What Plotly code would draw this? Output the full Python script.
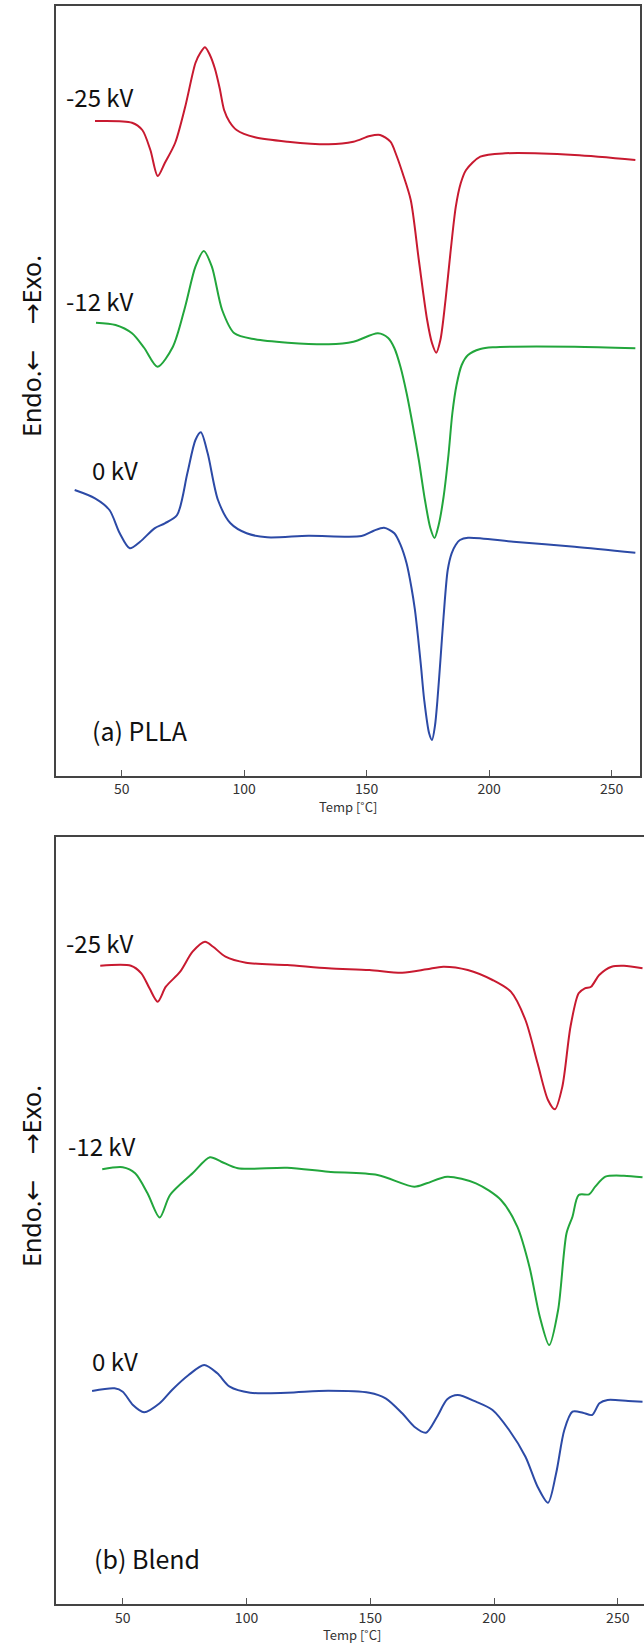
import plotly.graph_objects as go

W, H = 644, 1646

# ---------------- Panel (a) PLLA ----------------
a_red_T = [39.1, 54.2, 58.4, 61.7, 64.7, 67.6, 71.8, 75.9, 80.1, 82.0, 84.0, 86.0, 88.0, 90.0, 91.8, 94.0,
           96.9, 104.4, 117.8, 134.5, 144.6, 151.3, 155.5, 159.7, 162.1, 164.7, 168.0, 171.3, 174.7, 176.7,
           178.4, 180.1, 182.2, 184.2, 186.4, 188.4, 190.6, 196.4, 206.5, 234.9, 259.7]
a_red_v = [654.7, 653.0, 645.7, 625.7, 599.7, 612.7, 632.7, 668.7, 712.7, 722.4, 728.4, 720.7, 707.4,
           687.4, 665.7, 654.0, 645.7, 638.4, 634.0, 631.4, 634.0, 639.7, 640.7, 634.0, 620.7, 602.4,
           575.7, 515.7, 455.7, 432.4, 423.0, 435.7, 475.7, 522.7, 569.0, 592.4, 605.7, 619.0, 622.4,
           620.7, 615.7]

a_green_T = [39.5, 47.5, 54.2, 59.2, 64.6, 70.9, 75.9, 80.1, 83.5, 86.8, 91.0, 96.0, 104.4, 117.8,
             134.5, 144.6, 154.6, 158.8, 161.3, 163.8, 166.3, 168.8, 171.3, 173.8, 176.0, 177.7, 179.4,
             181.4, 183.4, 185.0, 186.7, 188.8, 191.4, 196.4, 201.5, 234.9, 259.7]
a_green_v = [453.0, 450.7, 442.4, 427.7, 409.0, 429.0, 469.0, 509.0, 524.7, 509.0, 465.7, 442.4, 436.4,
             433.0, 431.4, 434.0, 442.4, 437.7, 427.7, 409.0, 382.7, 350.7, 315.7, 275.7, 247.7, 237.7,
             250.7, 278.7, 320.7, 362.7, 390.7, 410.7, 420.7, 426.7, 428.4, 429.0, 427.4]

a_blue_T = [30.8, 39.1, 45.0, 49.2, 53.3, 57.5, 63.4, 67.6, 72.6, 76.8, 80.1, 82.3, 85.1, 89.3, 94.4,
            101.0, 109.4, 126.2, 147.9, 152.9, 157.1, 161.3, 163.8, 166.3, 168.3, 169.7, 171.0, 172.2,
            173.5, 175.5, 176.7, 177.9, 178.9, 180.1, 181.4, 183.1, 184.7, 186.4, 188.1, 191.4, 209.9,
            234.9, 259.7]
a_blue_v = [285.7, 277.4, 265.7, 242.4, 227.4, 234.0, 247.4, 252.4, 260.7, 302.4, 335.7, 343.4, 322.4,
            275.7, 252.4, 242.4, 238.4, 240.0, 239.7, 245.0, 248.0, 242.4, 231.0, 212.4, 188.0, 166.0,
            138.0, 109.0, 75.7, 42.4, 35.7, 50.0, 75.7, 115.0, 159.0, 205.7, 222.4, 231.0, 235.7, 238.0,
            234.0, 229.0, 223.0]

# ---------------- Panel (b) Blend ----------------
b_red_T = [40.9, 53.3, 57.5, 60.8, 64.1, 67.4, 73.2, 78.2, 83.2, 86.5, 91.5, 99.8, 116.4, 133.0, 149.6,
           162.9, 172.8, 179.5, 189.4, 199.4, 206.8, 212.7, 217.6, 221.8, 224.6, 227.6, 230.9, 234.2,
           236.7, 239.2, 242.5, 247.5, 252.5, 260.0]
b_red_v = [638.3, 638.3, 630.7, 615.7, 602.3, 617.3, 632.3, 652.3, 662.3, 657.3, 647.3, 641.3, 639.0,
           635.7, 634.0, 631.3, 634.7, 637.3, 634.0, 624.0, 612.3, 584.0, 540.7, 504.0, 494.7, 517.3,
           577.3, 610.7, 615.7, 617.3, 629.0, 637.3, 638.3, 635.7]

b_green_T = [41.7, 50.0, 55.0, 60.0, 64.9, 69.1, 78.2, 85.2, 89.8, 96.5, 116.4, 133.0, 152.9, 167.8,
             172.8, 181.1, 192.7, 202.8, 209.4, 214.3, 218.5, 222.3, 225.9, 229.3, 231.7, 234.2, 238.4,
             240.9, 245.0, 252.5, 260.0]
b_green_v = [434.7, 436.7, 430.7, 410.7, 386.5, 409.0, 430.7, 446.7, 442.3, 435.7, 436.3, 432.3, 429.0,
             417.3, 420.7, 427.3, 420.7, 404.0, 377.3, 337.3, 287.3, 259.0, 294.0, 370.7, 387.3, 409.0,
             409.7, 417.3, 427.3, 428.3, 426.7]

b_blue_T = [37.6, 46.7, 50.0, 54.1, 58.6, 64.9, 69.9, 76.6, 82.9, 88.2, 93.2, 101.5, 116.4, 133.0, 149.6,
            156.2, 162.9, 167.8, 172.5, 177.0, 181.1, 185.3, 192.7, 199.4, 206.1, 212.7, 217.6, 221.8,
            225.1, 228.4, 231.7, 235.9, 239.6, 242.6, 245.9, 254.2, 260.0]
b_blue_v = [213.0, 215.7, 212.3, 199.0, 191.7, 200.7, 214.0, 229.0, 239.0, 230.7, 217.3, 211.3, 211.3,
            213.3, 211.3, 205.7, 190.7, 177.3, 171.3, 187.3, 204.7, 209.0, 202.3, 194.0, 174.0, 147.3,
            117.3, 101.3, 130.7, 174.0, 192.3, 191.3, 189.0, 200.7, 204.0, 203.0, 202.3]

tick_vals = [50, 100, 150, 200, 250]
tick_text = ["50", "100", "150", "200", "250"]
series_labels = ["-25 kV", "-12 kV", "0 kV"]
panel_labels = ["(a) PLLA", "(b) Blend"]
x_title = "Temp [˚C]"

RED, GREEN, BLUE = "#c81a30", "#22a63c", "#2c4aa6"
LW = 2.0

fig = go.Figure()
for T, v, c in [(a_red_T, a_red_v, RED), (a_green_T, a_green_v, GREEN), (a_blue_T, a_blue_v, BLUE)]:
    fig.add_trace(go.Scatter(x=T, y=v, mode="lines", line=dict(color=c, width=LW, shape="spline", smoothing=0.8),
                             xaxis="x", yaxis="y", showlegend=False, hoverinfo="skip"))
for T, v, c in [(b_red_T, b_red_v, RED), (b_green_T, b_green_v, GREEN), (b_blue_T, b_blue_v, BLUE)]:
    fig.add_trace(go.Scatter(x=T, y=v, mode="lines", line=dict(color=c, width=LW, shape="spline", smoothing=0.8),
                             xaxis="x2", yaxis="y2", showlegend=False, hoverinfo="skip"))

def px(x):
    return x / W

def py(y):
    return 1 - y / H

tickfont = dict(family="Noto Sans CJK JP, sans-serif", size=14, color="#333333")
axis_common = dict(showline=True, linecolor="#444444", linewidth=1.5, showgrid=False, zeroline=False,
                   ticks="inside", ticklen=6, tickwidth=1, tickcolor="#555555",
                   tickvals=tick_vals, ticktext=tick_text, tickfont=tickfont)

fig.update_layout(
    width=W, height=H, margin=dict(l=0, r=0, t=0, b=0),
    paper_bgcolor="white", plot_bgcolor="white",
    xaxis=dict(domain=[px(55.7), px(640)], range=[23.05, 261.6], anchor="y", mirror=True, **axis_common),
    yaxis=dict(domain=[py(775.7), py(6)], range=[0, 769.7], anchor="x", showline=True, mirror=True,
               linecolor="#444444", linewidth=1.5, showticklabels=False, ticks="", showgrid=False, zeroline=False),
    xaxis2=dict(domain=[px(55.7), 1.0], range=[22.9, 260.6], anchor="y2", mirror=True, **axis_common),
    yaxis2=dict(domain=[py(1604), py(837.3)], range=[0, 766.7], anchor="x2", showline=True, mirror=False,
                linecolor="#444444", linewidth=1.5, showticklabels=False, ticks="", showgrid=False, zeroline=False),
)

lab_font = dict(family="Noto Sans CJK JP, sans-serif", size=24, color="#111111")
ann = []
for (x0, y0), t in zip([(64, 97), (64, 300), (90, 470)], series_labels):
    ann.append(dict(x=px(x0), y=py(y0), xref="paper", yref="paper", text=t, showarrow=False,
                    xanchor="left", yanchor="middle", font=lab_font))
for (x0, y0), t in zip([(64, 942), (66, 1145), (90, 1360)], series_labels):
    ann.append(dict(x=px(x0), y=py(y0), xref="paper", yref="paper", text=t, showarrow=False,
                    xanchor="left", yanchor="middle", font=lab_font))
pl_font = dict(family="Noto Sans CJK JP, sans-serif", size=25, color="#111111")
ann.append(dict(x=px(90), y=py(730), xref="paper", yref="paper", text=panel_labels[0], showarrow=False,
                xanchor="left", yanchor="middle", font=pl_font))
ann.append(dict(x=px(92), y=py(1558), xref="paper", yref="paper", text=panel_labels[1], showarrow=False,
                xanchor="left", yanchor="middle", font=pl_font))
xt_font = dict(family="Noto Sans CJK JP, sans-serif", size=13, color="#333333")
ann.append(dict(x=px(348), y=py(807), xref="paper", yref="paper", text=x_title, showarrow=False,
                xanchor="center", yanchor="middle", font=xt_font))
ann.append(dict(x=px(352), y=py(1634), xref="paper", yref="paper", text=x_title, showarrow=False,
                xanchor="center", yanchor="middle", font=xt_font))
arrow_span = '<span style="font-family:DejaVu Sans">{}</span>'
y_title = "Endo." + arrow_span.format("←") + "\u2002\u2002" + arrow_span.format("→") + "Exo."
yt_font = dict(family="Noto Sans, sans-serif", size=25, color="#111111")
ann.append(dict(x=px(31), y=py(346), xref="paper", yref="paper", text=y_title, showarrow=False, textangle=-90,
                xanchor="center", yanchor="middle", font=yt_font))
ann.append(dict(x=px(31), y=py(1176), xref="paper", yref="paper", text=y_title, showarrow=False, textangle=-90,
                xanchor="center", yanchor="middle", font=yt_font))
fig.update_layout(annotations=ann)

fig.write_html("out.html", config={"displayModeBar": False},
               post_script="document.body.style.margin='0';")
